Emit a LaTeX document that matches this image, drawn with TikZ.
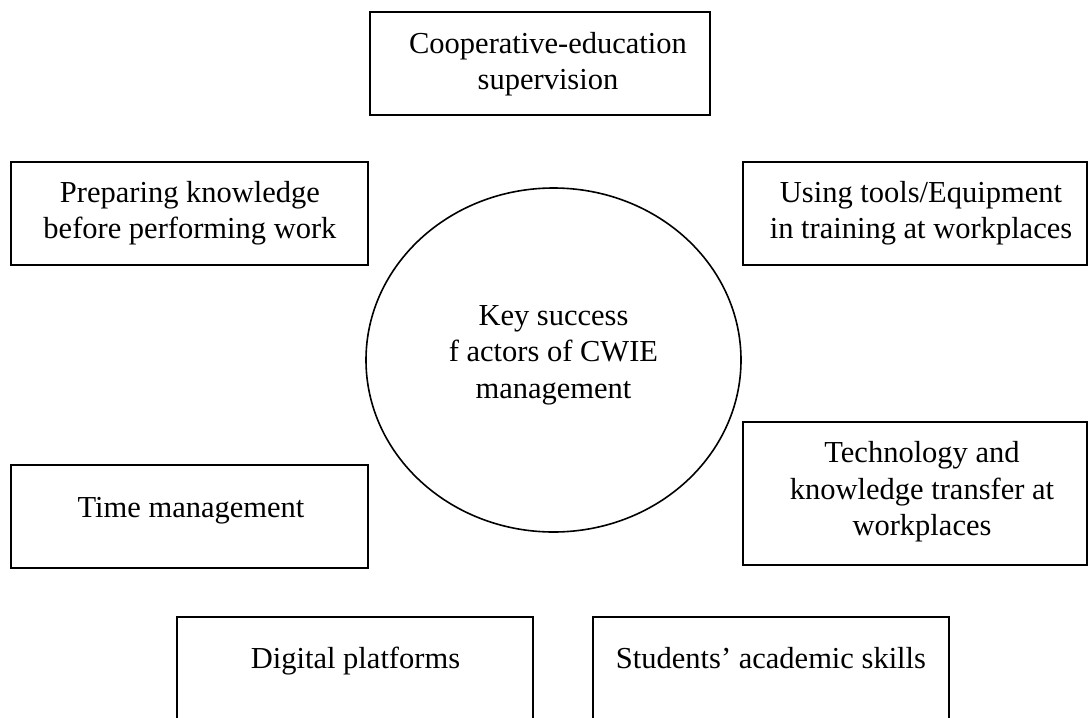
\documentclass[tikz,border=0pt]{standalone}
\usepackage{fontspec}
\setmainfont{Liberation Serif}
\usetikzlibrary{shapes.geometric}
\begin{document}
\begin{tikzpicture}[x=1pt,y=-1pt,
  box/.style={draw=black, line width=1.8pt, rectangle, inner sep=0pt, minimum height=103pt},
  lbl/.style={align=center, font=\fontsize{30.5}{36.5}\selectfont, inner sep=0pt},
  hub/.style={draw=black, line width=1.6pt, ellipse, inner sep=0pt, minimum width=375pt, minimum height=344pt}]
\useasboundingbox (0,0) rectangle (1088,718);
\clip (0,0) rectangle (1088,718);
\fill[white] (0,0) rectangle (1088,718);

% centre
\node[hub] (hub) at (553.5,360) {};
\node[lbl] (hubt) at (553.5,355) {Key success\\f actors of CWIE\\management};

% top
\node[box, minimum width=340pt] (coop) at (540,63.5) {};
\node[lbl] (coopt) at (548,64) {Cooperative-education\\supervision};

% upper left
\node[box, minimum width=357pt] (prep) at (189.5,213.5) {};
\node[lbl] (prept) at (190,213) {Preparing knowledge\\before performing work};

% upper right
\node[box, minimum width=344pt] (tools) at (915,213.5) {};
\node[lbl] (toolst) at (921,213) {Using tools/Equipment\\in training at workplaces};

% lower left
\node[box, minimum width=357pt] (time) at (189.5,516.5) {};
\node[lbl, anchor=base] (timet) at (191,517) {Time management};

% lower right
\node[box, minimum width=344pt, minimum height=143pt] (tech) at (915,493.5) {};
\node[lbl] (techt) at (922,492) {Technology and\\knowledge transfer at\\workplaces};

% bottom
\node[box, minimum width=356pt, minimum height=130pt] (dig) at (355,682) {};
\node[lbl, anchor=base] (digt) at (355.5,668) {Digital platforms};
\node[box, minimum width=356pt, minimum height=130pt] (stud) at (771,682) {};
\node[lbl, anchor=base] (studt) at (771,668) {Students’ academic skills};
\end{tikzpicture}
\end{document}
